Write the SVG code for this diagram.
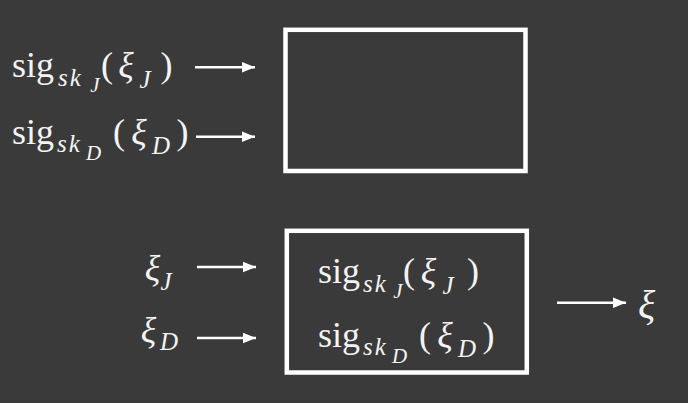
<svg xmlns="http://www.w3.org/2000/svg" width="688" height="403" viewBox="0 0 688 403">
<defs>
<style>
text{font-family:"Liberation Serif","Times New Roman",serif;fill:#f4f4f4;text-anchor:middle}
.m{font-size:36px}
.st{text-anchor:start}
.i{font-style:italic}
.s{font-size:25px;font-style:italic}
.sk{font-size:25px;font-style:italic;text-anchor:start;letter-spacing:2px}
.ss{font-size:21px;font-style:italic}
.box{fill:none;stroke:#ffffff;stroke-width:4.5}
.arr{stroke:#ffffff;stroke-width:2.6;fill:none;marker-end:url(#ah)}
</style>
<marker id="ah" markerUnits="userSpaceOnUse" markerWidth="14" markerHeight="12" refX="13" refY="6" orient="auto">
<path d="M0,0.8 L13,6 L0,11.2 Z" fill="#ffffff"/>
</marker>
</defs>
<rect width="688" height="403" fill="#3a3a3a"/>

<g id="label-sigJ-top">
<text class="m st" x="12" y="77">sig</text>
<text class="sk" x="58" y="86">sk</text>
<text class="ss" x="95" y="92">J</text>
<text class="m" x="107" y="77">(</text>
<text class="m i" x="126" y="77">ξ</text>
<text class="s" x="145" y="88">J</text>
<text class="m" x="166.5" y="77">)</text>
</g>

<g id="label-sigD-top">
<text class="m st" x="12" y="144">sig</text>
<text class="sk" x="57" y="152">sk</text>
<text class="ss" x="93.5" y="160">D</text>
<text class="m" x="119" y="144">(</text>
<text class="m i" x="139" y="144">ξ</text>
<text class="s" x="161" y="154">D</text>
<text class="m" x="182.5" y="144">)</text>
</g>

<g id="box-top">
<rect class="box" x="285.5" y="29.8" width="240" height="141.2"/>
</g>

<g id="label-xiJ">
<text class="m i" x="152.5" y="280">ξ</text>
<text class="s" x="166" y="290">J</text>
</g>
<g id="label-xiD">
<text class="m i" x="148.5" y="342">ξ</text>
<text class="s" x="169" y="350">D</text>
</g>

<g id="box-bottom">
<rect class="box" x="286.8" y="230.8" width="240" height="141.7"/>
<text class="m st" x="318" y="283">sig</text>
<text class="sk" x="363" y="292">sk</text>
<text class="ss" x="398" y="298">J</text>
<text class="m" x="409" y="283">(</text>
<text class="m i" x="428.5" y="283">ξ</text>
<text class="s" x="448" y="294">J</text>
<text class="m" x="473" y="283">)</text>
<text class="m st" x="318" y="347">sig</text>
<text class="sk" x="363" y="355">sk</text>
<text class="ss" x="399.5" y="363">D</text>
<text class="m" x="425" y="347">(</text>
<text class="m i" x="445" y="347">ξ</text>
<text class="s" x="467" y="357">D</text>
<text class="m" x="488.5" y="347">)</text>
</g>

<g id="label-xi-out">
<text class="m i" x="646.5" y="318" style="font-size:40px">ξ</text>
</g>

<g id="connectors">
<line class="arr" x1="195" y1="67.3" x2="255" y2="67.3"/>
<line class="arr" x1="196" y1="136.7" x2="255" y2="136.7"/>
<line class="arr" x1="197" y1="267" x2="256" y2="267"/>
<line class="arr" x1="197" y1="338" x2="256" y2="338"/>
<line class="arr" x1="557" y1="302.7" x2="626" y2="302.7"/>
</g>
</svg>
